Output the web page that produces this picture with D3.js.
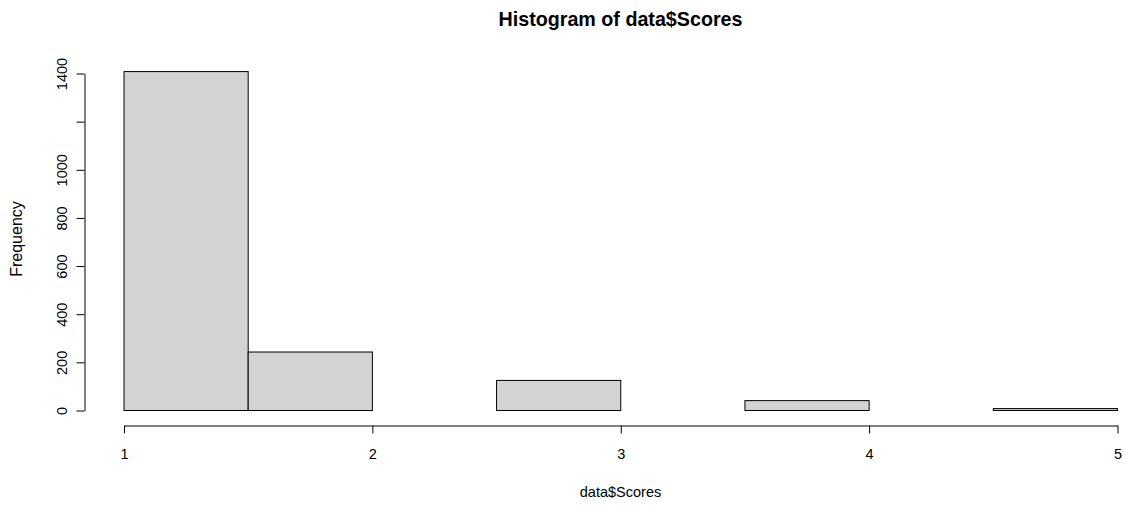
<!DOCTYPE html>
<html><head><meta charset="utf-8">
<script src="https://cdn.jsdelivr.net/npm/d3@7"></script>
<style>body{margin:0;background:#fff}svg{display:block}text{font-family:"Liberation Sans",Arial,sans-serif;fill:#000}</style>
</head><body>
<svg id="c" width="1126" height="506"></svg>
<script>
const binStarts = [1, 1.5, 2, 2.5, 3, 3.5, 4, 4.5];
const binEnds = [1.5, 2, 2.5, 3, 3.5, 4, 4.5, 5];
const counts = [1408, 243, 0, 125, 0, 41, 0, 8];
const xTicks = [1, 2, 3, 4, 5];
const yTicks = [0, 200, 400, 600, 800, 1000, 1200, 1400];
const yTickLabels = ["0", "200", "400", "600", "800", "1000", "", "1400"];

const svg = d3.select("#c");
const x = d3.scaleLinear().domain([1, 5]).range([124, 1117.5]);
const y = d3.scaleLinear().domain([0, 1400]).range([410.5, 73.5]);

// bars
svg.append("g").selectAll("rect").data(binStarts).join("rect")
  .attr("x", (d, i) => x(d))
  .attr("y", (d, i) => y(counts[i]))
  .attr("width", (d, i) => x(binEnds[i]) - x(d))
  .attr("height", (d, i) => y(0) - y(counts[i]))
  .attr("fill", "#d3d3d3")
  .attr("stroke", "#000")
  .attr("stroke-width", 1);

// y axis
const ya = svg.append("g").attr("transform", "translate(84.5,0)")
  .call(d3.axisLeft(y).tickValues(yTicks).tickSize(8).tickSizeOuter(0).tickFormat((d, i) => yTickLabels[i]));
ya.select(".domain").attr("stroke", "#000");
ya.selectAll(".tick line").attr("stroke", "#000");
ya.selectAll(".tick text")
  .attr("x", 0).attr("dy", null).attr("y", 0)
  .attr("text-anchor", "middle")
  .attr("transform", "translate(-23,0) rotate(-90)")
  .attr("dominant-baseline", "central")
  .style("font-size", "14.5px").style("font-family", '"Liberation Sans",Arial,sans-serif').attr("fill", "#000");

// x axis
const xa = svg.append("g").attr("transform", "translate(0,425.5)")
  .call(d3.axisBottom(x).tickValues(xTicks).tickSize(8).tickSizeOuter(0).tickFormat(d3.format("d")));
xa.select(".domain").attr("stroke", "#000");
xa.selectAll(".tick line").attr("stroke", "#000");
xa.selectAll(".tick text")
  .attr("y", 0).attr("dy", null)
  .attr("transform", "translate(0,28)")
  .attr("dominant-baseline", "central")
  .style("font-size", "14.5px").style("font-family", '"Liberation Sans",Arial,sans-serif').attr("fill", "#000");

// title and labels
svg.append("text").attr("x", 620.5).attr("y", 26).attr("text-anchor", "middle")
  .style("font-size", "19.7px").style("font-weight", "bold").text("Histogram of data$Scores");
svg.append("text").attr("x", 620.5).attr("y", 497).attr("text-anchor", "middle")
  .style("font-size", "14.5px").text("data$Scores");
svg.append("text").attr("transform", "translate(22,239) rotate(-90)").attr("text-anchor", "middle")
  .style("font-size", "16px").text("Frequency");
</script>
</body></html>
